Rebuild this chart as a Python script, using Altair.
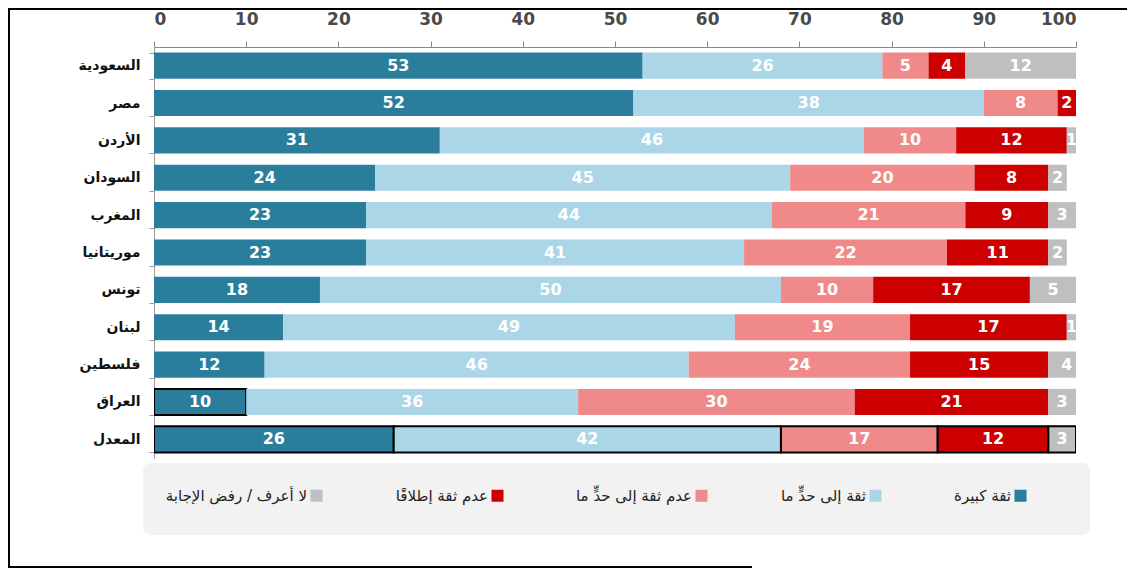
import altair as alt
import pandas as pd

countries = ["السعودية", "مصر", "الأردن", "السودان", "المغرب", "موريتانيا",
             "تونس", "لبنان", "فلسطين", "العراق", "المعدل"]
series = ["ثقة كبيرة", "ثقة إلى حدٍّ ما", "عدم ثقة إلى حدٍّ ما",
          "عدم ثقة إطلاقًا", "لا أعرف / رفض الإجابة"]
high = [53, 52, 31, 24, 23, 23, 18, 14, 12, 10, 26]
some = [26, 38, 46, 45, 44, 41, 50, 49, 46, 36, 42]
not_some = [5, 8, 10, 20, 21, 22, 10, 19, 24, 30, 17]
not_at_all = [4, 2, 12, 8, 9, 11, 17, 17, 15, 21, 12]
dont_know = [12, 0, 1, 2, 3, 2, 5, 1, 4, 3, 3]
x_ticks = [0, 10, 20, 30, 40, 50, 60, 70, 80, 90, 100]

colors = ["#2a7e9c", "#abd6e7", "#f08a8a", "#cc0000", "#bfbfbf"]

rows = []
for i, c in enumerate(countries):
    for k, vals in enumerate([high, some, not_some, not_at_all, dont_know]):
        rows.append({"country": c, "series": series[k], "k": k, "value": vals[i]})
df = pd.DataFrame(rows)

FONT = "DejaVu Sans"

base = alt.Chart(df).transform_stack(
    stack="value", groupby=["country"], as_=["v0", "v1"],
    sort=[alt.SortField("k", order="ascending")]
).transform_calculate(mid="(datum.v0 + datum.v1) / 2")

y_enc = alt.Y(
    "country:N", sort=countries, title=None,
    scale=alt.Scale(paddingInner=0.3, paddingOuter=0.15),
    axis=alt.Axis(labelFont=FONT, labelFontSize=14, labelFontWeight="bold",
                  labelColor="#111", tickBand="extent", tickSize=5,
                  labelPadding=9, domainColor="#999", tickColor="#999")
)

bars = base.mark_bar(stroke="black", clip=True).encode(
    x=alt.X("v0:Q", title=None,
            scale=alt.Scale(domain=[0, 100], nice=False),
            axis=alt.Axis(orient="top", values=x_ticks, grid=False,
                          labelFont=FONT, labelFontSize=17, labelFontWeight="bold",
                          labelColor="#4a4a4a",
                          tickSize=6, labelPadding=13,
                          domainColor="#a08088", tickColor="#a08088")),
    x2="v1:Q",
    y=y_enc,
    color=alt.Color(
        "series:N",
        scale=alt.Scale(domain=series, range=colors),
        legend=alt.Legend(values=series[::-1], title=None,
                          labelOffset={"expr": "-17"})
    ),
    strokeWidth=alt.condition(
        "datum.country === 'المعدل' || (datum.country === 'العراق' && datum.k === 0)",
        alt.value(2), alt.value(0)
    ),
)

labels = base.transform_filter("datum.value > 0").mark_text(
    color="white", font=FONT, fontWeight="bold", fontSize=16, clip=True
).encode(
    x="mid:Q",
    y=alt.Y("country:N", sort=countries),
    text="value:Q",
)

deco_df = pd.DataFrame({"a": [0]})
legend_box = alt.Chart(deco_df).mark_rect(color="#f2f2f2", cornerRadius=8).encode(
    x=alt.value(-11), x2=alt.value(936), y=alt.value(416), y2=alt.value(488))
left_line = alt.Chart(deco_df).mark_rule(color="black", strokeWidth=2).encode(
    x=alt.value(-145), y=alt.value(-39), y2=alt.value(521))
top_line = alt.Chart(deco_df).mark_rule(color="black", strokeWidth=2).encode(
    x=alt.value(-146), x2=alt.value(973), y=alt.value(-38))
bottom_line = alt.Chart(deco_df).mark_rule(color="black", strokeWidth=2).encode(
    x=alt.value(-146), x2=alt.value(598), y=alt.value(520))

chart = alt.layer(legend_box, bars, labels, left_line, top_line, bottom_line).properties(
    width=922, height=411,
    padding={"left": 146, "top": 39, "right": 51, "bottom": 110},
    autosize=alt.AutoSizeParams(type="none"),
).configure_view(stroke=None).configure_legend(
    orient="none", legendX=155, legendY=441, direction="horizontal",
    symbolType="square", symbolSize=144, symbolStrokeWidth=0,
    labelFont=FONT, labelFontSize=15, labelColor="#222",
    labelAlign="right", columnPadding=72, padding=0,
)

chart.save("out.html", embed_options={"renderer": "svg", "actions": False})
